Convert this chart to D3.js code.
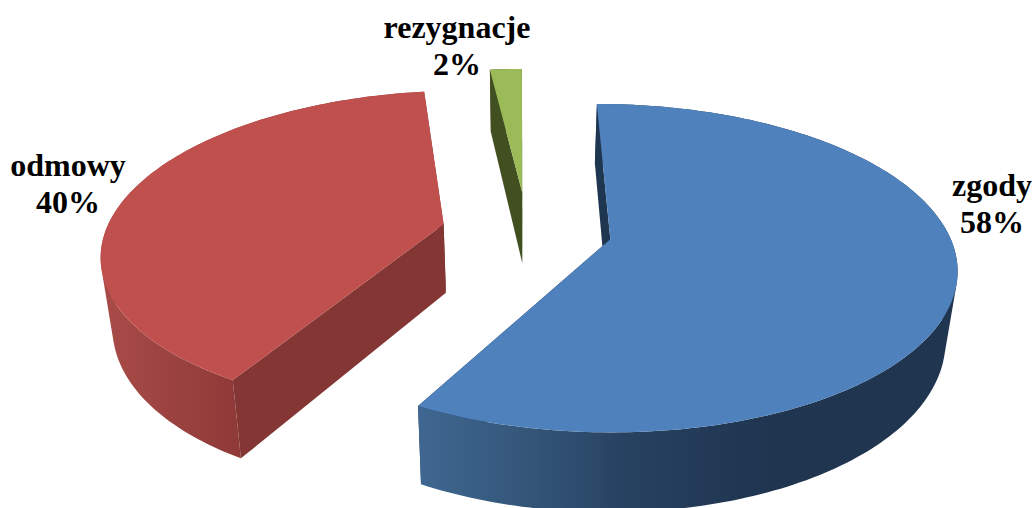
<!DOCTYPE html>
<html><head><meta charset="utf-8">
<style>html,body{margin:0;padding:0;background:#fff;overflow:hidden}svg{display:block}
text{font-family:"Liberation Serif",serif;font-weight:bold;font-size:32px;fill:#000;text-anchor:middle}</style>
<script src="https://cdn.jsdelivr.net/npm/d3@7/dist/d3.min.js"></script></head>
<body><svg width="1035" height="508"></svg>
<script>
const categories=["zgody","odmowy","rezygnacje"];
const values=[58,40,2];
const percentLabels=["58%","40%","2%"];
const topColors=["#4f81bd","#c0504d","#9bbb59"];
const radialWallColors=["#1f3650","#833634","#414f21"];
const labelX=[992,68,457];
const labelY=[196,176,38];

const W=1035,H=508;
const cx=525,cy=234,rx=347,ry=158,k=0.145,explode=0.232,vx=525,shrink=0.972,depth=69,shear=5;
// small per-slice adjustments of the projected wedge
const apexDX=[7,-3,1],apexDY=[-4,-3,-6];
const arcDX=[-0.5,0,-5],arcDY=[1,0,0];
const arcScaleX=[1,0.985,0.865];
const startNudge=[-0.003,0.035,0],endNudge=[-0.004,0,0];
const depthScale=[0.98,1,1.06];
const sxScale=d3.scaleLinear().domain([-1,1]).range([cx-rx,cx+rx]);
const syScale=d3.scaleLinear().domain([-1,1]).range([cy+ry,cy-ry]);
function project(X,Z){const w=1+k*Z;return {x:sxScale(X/w)+shear*Z,y:syScale(Z/w),w};}
function topPt(p){return [p.x,p.y];}

const svg=d3.select("svg");
const defs=svg.append("defs");
const g1=defs.append("linearGradient").attr("id","wall0").attr("gradientUnits","userSpaceOnUse").attr("x1",418).attr("x2",960).attr("y1",0).attr("y2",0);
[[0,"#3f6791"],[0.2,"#345679"],[0.4,"#26405f"],[0.65,"#1f3550"],[1,"#1f3550"]].forEach(s=>g1.append("stop").attr("offset",s[0]).attr("stop-color",s[1]));
const g2=defs.append("linearGradient").attr("id","wall1").attr("gradientUnits","userSpaceOnUse").attr("x1",100).attr("x2",245).attr("y1",0).attr("y2",0);
[[0,"#a94c49"],[1,"#8d3937"]].forEach(s=>g2.append("stop").attr("offset",s[0]).attr("stop-color",s[1]));
const g3=defs.append("linearGradient").attr("id","wall2").attr("gradientUnits","userSpaceOnUse").attr("x1",480).attr("x2",530).attr("y1",0).attr("y2",0);
[[0,"#414f21"],[1,"#414f21"]].forEach(s=>g3.append("stop").attr("offset",s[0]).attr("stop-color",s[1]));

const pie=d3.pie().sort(null).value(d=>d)(values);
const line=d3.line();
const order=[1,2,0];
order.forEach(i=>{
  const a=pie[i];
  const botPt=p=>[vx+(p.x-vx)*shrink,p.y+depth*depthScale[i]/p.w];
  const mid=(a.startAngle+a.endAngle)/2;
  const ox=explode*Math.sin(mid),oz=explode*Math.cos(mid);
  const a0=a.startAngle+startNudge[i],a1=a.endAngle+endNudge[i];
  const n=Math.max(4,Math.ceil((a1-a0)/0.02));
  const arc=d3.range(n+1).map(j=>{
    const t=a0+(a1-a0)*j/n;
    const p=project(ox+arcScaleX[i]*Math.sin(t),oz+Math.cos(t));
    p.x+=arcDX[i];p.y+=arcDY[i];
    return p;
  });
  const apex=project(ox,oz);
  apex.x+=apexDX[i];apex.y+=apexDY[i];
  const g=svg.append("g");
  const radial=e=>g.append("path").attr("d",line([topPt(apex),topPt(e),botPt(e),botPt(apex)])+"Z").attr("fill",radialWallColors[i]);
  radial(arc[n]);
  // outer wall: all quads in ONE path, same winding, so no seams and the silhouette is filled
  const wallD=d3.pairs(arc).map(([p,q])=>{
    let quad=[topPt(p),topPt(q),botPt(q),botPt(p)];
    if(d3.polygonArea(quad)<0) quad=quad.reverse();
    return line(quad)+"Z";
  }).join("");
  g.append("path").attr("d",wallD).attr("fill",`url(#wall${i})`);
  radial(arc[0]);
  g.append("path").attr("d",line([topPt(apex)].concat(arc.map(topPt)))+"Z").attr("fill",topColors[i]);
});
categories.forEach((c,i)=>{
  svg.append("text").attr("x",labelX[i]).attr("y",labelY[i]).text(c);
  svg.append("text").attr("x",labelX[i]).attr("y",labelY[i]+36.5).text(percentLabels[i]);
});
</script></body></html>
